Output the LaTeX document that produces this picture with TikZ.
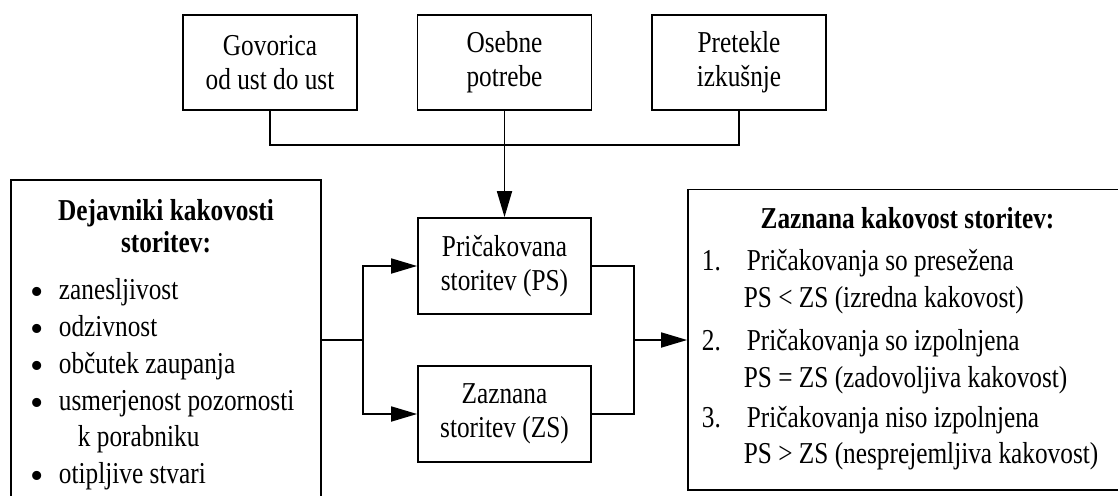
\documentclass[tikz,border=0pt]{standalone}
\usepackage{fontspec}
\usepackage{graphicx}
\setmainfont{Liberation Serif}
\usetikzlibrary{arrows.meta}
\newcommand\vs[1]{\scalebox{1}[1.2]{#1}}
\newcommand\bul{\raisebox{-5.5pt}{\scalebox{1.5}{•}}}
\begin{document}
\begin{tikzpicture}[x=1pt,y=-1pt,
  line width=1.8pt,
  every node/.style={font=\fontsize{25.3}{34}\selectfont, inner sep=0pt},
  box/.style={draw, rectangle, line width=1.8pt},
  topbox/.style={box, minimum width=174pt, minimum height=95pt, align=center},
  midbox/.style={box, minimum width=173pt, minimum height=96pt, align=center},
  txt/.style={anchor=base west},
  ctxt/.style={anchor=base},
  arr/.style={-{Triangle[length=26pt,width=15pt]}}
]
\useasboundingbox (0,0) rectangle (1118,495);
\clip (0,0) rectangle (1118,495);

% top boxes
\node[topbox] (G) at (270,62.5) {\vs{Govorica}\\\vs{od ust do ust}};
\node[topbox] (O) at (504.5,62.5) {\vs{Osebne}\\\vs{potrebe}};
\node[topbox] (P) at (739,62.5) {\vs{Pretekle}\\\vs{izkušnje}};

% middle boxes
\node[midbox] (PS) at (504.5,266) {\vs{Pričakovana}\\\vs{storitev (PS)}};
\node[midbox] (ZS) at (504.5,414) {\vs{Zaznana}\\\vs{storitev (ZS)}};

% left box
\node[box, minimum width=310pt, minimum height=360pt] (dej) at (166,360) {};
\node[ctxt] (dh1) at (166,220) {\vs{\bfseries Dejavniki kakovosti}};
\node[ctxt] (dh2) at (166,252) {\vs{\bfseries storitev:}};
\node[ctxt] (b1) at (37,299) {\bul};
\node[txt] (l1) at (58,299) {\vs{zanesljivost}};
\node[ctxt] (b2) at (37,336) {\bul};
\node[txt] (l2) at (58,336) {\vs{odzivnost}};
\node[ctxt] (b3) at (37,373) {\bul};
\node[txt] (l3) at (58,373) {\vs{občutek zaupanja}};
\node[ctxt] (b4) at (37,410) {\bul};
\node[txt] (l4) at (58,410) {\vs{usmerjenost pozornosti}};
\node[txt] (l4b) at (77,446) {\vs{k porabniku}};
\node[ctxt] (b5) at (37,483) {\bul};
\node[txt] (l5) at (58,483) {\vs{otipljive stvari}};

% right box
\node[box, minimum width=439pt, minimum height=300.5pt] (zk) at (907.5,339.75) {};
\node[ctxt] (zh) at (907.5,228) {\vs{\bfseries Zaznana kakovost storitev:}};
\node[txt] (n1) at (701,270) {\vs{1.}};
\node[txt] (r1) at (746,270) {\vs{Pričakovanja so presežena}};
\node[txt] (r1b) at (743,307) {\vs{PS < ZS (izredna kakovost)}};
\node[txt] (n2) at (701,350) {\vs{2.}};
\node[txt] (r2) at (746,350) {\vs{Pričakovanja so izpolnjena}};
\node[txt] (r2b) at (743,387) {\vs{PS = ZS (zadovoljiva kakovost)}};
\node[txt] (n3) at (701,427) {\vs{3.}};
\node[txt] (r3) at (746,427) {\vs{Pričakovanja niso izpolnjena}};
\node[txt] (r3b) at (743,463) {\vs{PS > ZS (nesprejemljiva kakovost)}};

% connectors
\coordinate (hub) at (504.5,145);
\coordinate (lb) at (363,340);
\coordinate (rb) at (634,340);

\draw (G.south) |- (hub);
\draw (P.south) |- (hub);
\draw[arr] (O.south) -- (PS.north);

\draw (dej.east |- lb) -- (lb);
\draw[arr] (lb) |- (PS.west);
\draw[arr] (lb) |- (ZS.west);

\draw (PS.east) -| (rb);
\draw (ZS.east) -| (rb);
\draw[arr] (rb) -- (zk.west |- rb);
\end{tikzpicture}
\end{document}
